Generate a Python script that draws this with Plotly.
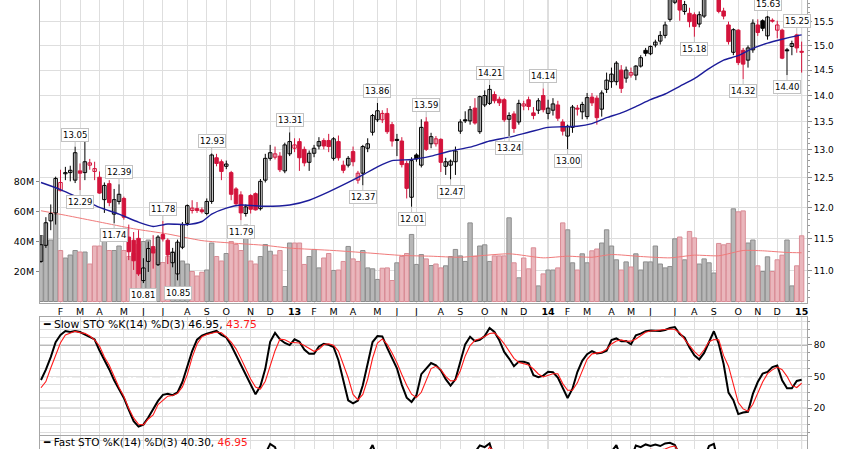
import datetime as dt
import math

import plotly.graph_objects as go

FIRST_WEEK = dt.datetime(2012, 1, 9)
WEEK_MS = 7 * 24 * 3600 * 1000

# weekly OHLC, Jan 2012 - Jan 2015
opens = [
    11.14, 11.39, 11.78, 11.91, 12.28, 12.57, 12.59, 12.46, 12.62, 12.59,
    12.72, 12.61, 12.51, 12.13, 12.40, 11.89, 12.10, 12.15, 11.52, 11.47,
    11.50, 10.85, 11.14, 11.37, 11.09, 11.56, 11.47, 11.12, 10.95, 11.36,
    11.74, 11.95, 11.98, 11.96, 11.90, 12.10, 12.85, 12.78, 12.70, 12.59,
    12.31, 12.21, 11.90, 12.20, 12.23, 11.98, 12.46, 12.84, 12.86, 12.88,
    12.62, 12.92, 13.02, 13.14, 13.00, 12.77, 12.93, 13.06, 13.16, 13.16,
    12.84, 13.14, 12.72, 12.72, 12.96, 12.46, 12.58, 13.02, 13.31, 13.54,
    13.54, 13.66, 13.45, 13.18, 13.15, 12.75, 12.17, 12.90, 12.72, 13.50,
    13.10, 13.10, 13.18, 12.70, 12.72, 12.78, 13.33, 13.54, 13.52, 13.76,
    13.32, 13.82, 13.85, 14.02, 13.93, 13.92, 13.55, 13.65, 13.50, 13.80,
    13.92, 13.67, 13.72, 14.00, 13.66, 13.72, 13.82, 13.50, 13.24, 13.40,
    13.76, 13.69, 13.60, 13.97, 13.95, 13.74, 14.12, 14.27, 14.27, 14.50,
    14.34, 14.40, 14.40, 14.58, 14.90, 14.83, 15.01, 15.09, 15.21, 15.55,
    15.92, 16.12, 15.72, 15.68, 15.65, 15.45, 15.62, 16.08, 16.22, 16.18,
    15.73, 15.43, 14.86, 15.32, 14.90, 14.70, 14.91, 15.43, 15.52, 15.20,
    15.53, 15.32, 15.32, 14.91, 14.98, 15.22, 14.88,
]
highs = [
    11.55, 11.84, 12.05, 12.52, 12.64, 12.69, 12.71, 13.05, 12.75, 13.16,
    12.83, 12.78, 12.61, 12.42, 12.46, 12.31, 12.39, 12.18, 11.72, 11.60,
    11.63, 11.19, 11.45, 11.55, 11.55, 11.78, 11.50, 11.35, 11.48, 11.76,
    12.05, 12.12, 12.09, 12.00, 12.15, 12.93, 12.92, 12.82, 12.80, 12.62,
    12.34, 12.27, 12.05, 12.22, 12.25, 12.48, 12.92, 13.08, 13.05, 12.95,
    13.12, 13.31, 13.20, 13.20, 13.05, 12.98, 13.08, 13.22, 13.20, 13.28,
    13.22, 13.25, 12.80, 12.88, 13.05, 12.62, 13.08, 13.20, 13.65, 13.86,
    13.72, 13.76, 13.50, 13.28, 13.22, 12.80, 12.86, 12.93, 13.55, 13.59,
    13.30, 13.24, 13.20, 12.85, 12.82, 13.05, 13.55, 13.70, 13.80, 13.95,
    14.00, 14.10, 14.21, 14.08, 13.98, 13.95, 13.68, 13.70, 13.92, 13.90,
    13.98, 13.78, 13.95, 14.14, 13.92, 13.95, 13.90, 13.55, 13.45, 13.82,
    13.82, 13.88, 14.05, 14.05, 14.00, 14.10, 14.45, 14.55, 14.68, 14.60,
    14.57, 14.55, 14.60, 14.80, 14.95, 15.00, 15.12, 15.30, 15.50, 16.10,
    16.25, 16.20, 15.95, 15.80, 15.70, 15.72, 16.15, 16.35, 16.42, 16.22,
    15.80, 15.50, 15.36, 15.34, 14.95, 15.00, 15.55, 15.55, 15.55, 15.63,
    15.57, 15.52, 15.35, 14.95, 15.10, 15.25, 15.08,
]
lows = [
    11.12, 11.35, 11.63, 11.72, 12.27, 12.46, 12.44, 12.41, 12.29, 12.46,
    12.64, 12.46, 12.23, 11.91, 12.02, 11.74, 12.05, 11.80, 11.16, 11.01,
    10.92, 10.81, 10.98, 11.03, 11.07, 11.45, 11.10, 11.05, 10.85, 11.33,
    11.70, 11.90, 11.91, 11.90, 11.87, 12.06, 12.70, 12.46, 12.65, 12.12,
    12.03, 11.79, 11.85, 11.90, 11.95, 11.95, 12.42, 12.80, 12.82, 12.60,
    12.58, 12.88, 12.95, 12.62, 12.70, 12.62, 12.86, 13.00, 13.00, 12.95,
    12.80, 12.80, 12.58, 12.68, 12.70, 12.40, 12.37, 12.95, 13.25, 13.50,
    13.48, 13.28, 13.05, 12.88, 12.68, 12.15, 12.01, 12.78, 12.68, 12.97,
    13.02, 13.05, 12.60, 12.55, 12.47, 12.55, 13.28, 13.48, 13.45, 13.45,
    13.28, 13.78, 13.82, 13.85, 13.80, 13.50, 13.24, 13.30, 13.45, 13.72,
    13.72, 13.55, 13.65, 13.68, 13.55, 13.62, 13.52, 13.25, 13.00, 13.30,
    13.62, 13.55, 13.55, 13.80, 13.45, 13.60, 14.05, 14.15, 14.20, 14.05,
    14.25, 14.35, 14.30, 14.55, 14.78, 14.80, 14.96, 15.02, 15.15, 15.50,
    15.88, 15.52, 15.65, 15.38, 15.18, 15.38, 15.58, 16.00, 16.02, 15.68,
    15.55, 15.02, 14.80, 14.60, 14.32, 14.55, 14.85, 15.20, 15.30, 15.12,
    15.48, 15.15, 14.72, 14.40, 14.80, 14.85, 14.45,
]
closes = [
    11.40, 11.75, 11.90, 12.49, 12.42, 12.59, 12.63, 12.94, 12.58, 12.78,
    12.76, 12.66, 12.24, 12.37, 12.08, 12.13, 12.22, 11.84, 11.29, 11.15,
    10.95, 11.04, 11.34, 11.27, 11.52, 11.49, 11.24, 11.28, 11.44, 11.72,
    12.03, 11.99, 11.95, 11.93, 12.10, 12.90, 12.75, 12.61, 12.74, 12.22,
    12.06, 11.91, 12.01, 11.97, 11.96, 12.44, 12.84, 12.94, 12.92, 12.64,
    13.08, 13.14, 13.08, 12.85, 12.76, 12.93, 13.02, 13.14, 13.06, 13.05,
    13.19, 12.85, 12.63, 12.84, 12.78, 12.58, 13.05, 13.10, 13.62, 13.71,
    13.66, 13.32, 13.15, 13.16, 12.73, 12.32, 12.80, 12.83, 13.40, 13.00,
    13.23, 13.19, 12.77, 12.78, 12.79, 12.97, 13.50, 13.52, 13.73, 13.48,
    13.98, 14.00, 14.12, 13.90, 13.86, 13.54, 13.62, 13.38, 13.85, 13.84,
    13.79, 13.62, 13.90, 13.73, 13.76, 13.84, 13.57, 13.33, 13.42, 13.78,
    13.74, 13.83, 13.96, 13.86, 13.58, 14.05, 14.30, 14.42, 14.64, 14.14,
    14.50, 14.45, 14.58, 14.75, 14.84, 14.98, 15.07, 15.21, 15.43, 16.02,
    16.15, 15.75, 15.87, 15.50, 15.40, 15.65, 16.08, 16.25, 16.30, 15.72,
    15.62, 15.08, 15.33, 14.65, 14.62, 14.95, 15.47, 15.27, 15.36, 15.60,
    15.51, 15.43, 14.74, 14.89, 15.04, 14.95, 14.86,
]
volume_m = [
    44, 41, 41, 58, 34, 29, 31, 34, 33, 33,
    25, 37, 37, 41, 34, 34, 37, 34, 30, 32,
    38, 40, 41, 35, 26, 26, 30, 33, 34, 27,
    25, 20, 17, 19.5, 21, 39, 30, 27, 32, 40,
    38, 34, 51, 27, 25, 30, 38, 33.5, 31, 34,
    10, 39, 39, 39, 24.7, 30, 34.7, 22.4, 29, 32,
    20.7, 21, 26.7, 36.7, 28.4, 26.7, 34, 22.4, 21.8, 14.7,
    22.2, 22.4, 14, 25.8, 30, 32, 44.7, 24.7, 31.3, 28.4,
    24, 25, 22.4, 23.8, 30, 34.7, 30.4, 26.7, 52.4, 30.2,
    37, 37.8, 26.7, 30.4, 30.4, 30.4, 55.8, 25.8, 15.8, 29,
    21.8, 35.8, 10.4, 18.4, 21, 21, 22.4, 52.4, 47.8, 25.8,
    21, 31.8, 25.8, 33.8, 35, 39, 47.8, 37, 27.8, 21,
    26.4, 23, 31.8, 21, 26.4, 26.4, 37, 25, 22.4, 23.3,
    41.8, 43, 27.8, 46.7, 42.4, 25, 28.4, 25.8, 19, 38.7,
    37.8, 38.7, 61.8, 59.8, 60.4, 39, 41, 23.8, 20, 29.8,
    20, 27.8, 30.9, 41, 10.4, 23.8, 43.8,
]

# moving averages (week index, value)
sma_weeks = [0, 4, 8, 12, 16, 20, 23, 26, 30, 33, 35, 38, 41, 46, 51, 55, 59, 63, 66, 69,
             72, 76, 80, 84, 88, 92, 96, 100, 104, 107, 110, 113, 116, 119, 122, 125,
             128, 131, 134, 137, 140, 143, 146, 149, 152, 155, 156]
sma_vals = [12.42, 12.30, 12.15, 12.00, 11.89, 11.76, 11.69, 11.73, 11.72, 11.77, 11.89,
            11.99, 12.04, 12.02, 12.04, 12.12, 12.26, 12.42, 12.55, 12.69, 12.80, 12.82,
            12.88, 12.97, 13.04, 13.15, 13.22, 13.31, 13.40, 13.41, 13.42, 13.47, 13.58,
            13.67, 13.79, 13.92, 14.03, 14.18, 14.33, 14.53, 14.70, 14.79, 14.94, 15.05,
            15.13, 15.20, 15.22]
vol_sma_weeks = [0, 5, 12, 19, 26, 33, 39, 46, 51, 60, 67, 74, 80, 86, 96, 103, 108, 113,
                 117, 123, 129, 134, 139, 144, 148, 153, 156]
vol_sma_vals = [60.5, 57.5, 53, 48.5, 45, 40.6, 39, 37.4, 35.6, 34, 32.4, 30.7, 30.2, 29.5,
                31.8, 29.1, 30.2, 29.5, 31.3, 30, 29.1, 30.9, 30.5, 34, 33.8, 32.7, 32.5]

slow_k = [
    46.8, 56.6, 68.5, 82.6, 89.6, 93.2, 92.4, 93.3, 92.3, 90.1,
    87.6, 85.2, 74.7, 66.3, 56.8, 46.5, 38.7, 29.8, 18.6, 7.8,
    2.6, 4.5, 11.2, 18.7, 27.0, 32.8, 33.8, 32.4, 35.0, 44.9,
    59.9, 74.3, 85.0, 88.9, 90.7, 91.9, 93.3, 89.6, 87.1, 79.7,
    70.4, 60.5, 51.5, 42.1, 33.2, 41.1, 57.4, 83.0, 91.4, 85.4,
    81.9, 79.9, 85.4, 83.1, 75.7, 71.6, 71.6, 78.6, 81.1, 80.1,
    78.1, 65.5, 46.5, 27.6, 24.7, 27.3, 41.8, 63.3, 82.8, 88.5,
    88.1, 77.2, 68.2, 57.9, 42.2, 30.1, 26.0, 32.3, 52.4, 57.6,
    62.9, 60.7, 56.0, 47.6, 41.4, 47.4, 64.8, 80.6, 87.8, 83.6,
    84.9, 88.4, 96.0, 92.3, 84.4, 73.4, 67.1, 59.8, 64.2, 64.0,
    62.6, 51.4, 49.5, 51.0, 54.6, 54.1, 49.1, 39.0, 29.8, 38.6,
    54.4, 65.0, 71.2, 74.2, 71.9, 72.7, 74.5, 84.6, 86.2, 83.5,
    83.8, 80.6, 89.2, 90.7, 93.1, 93.8, 93.4, 93.3, 94.2, 96.0,
    97.0, 90.4, 86.9, 77.5, 70.2, 66.3, 72.5, 83.3, 93.0, 81.2,
    62.0, 34.9, 27.7, 14.5, 16.0, 16.7, 33.6, 44.9, 52.8, 54.4,
    59.0, 60.5, 46.5, 39.0, 39.0, 45.9, 46.95,
]
slow_d = [
    39.5, 45.3, 58.2, 71.1, 82.1, 89.4, 91.5, 92.9, 91.7, 91.0,
    88.5, 84.7, 79.1, 68.6, 60.8, 50.4, 39.8, 31.2, 19.9, 10.9,
    4.9, 4.3, 9.9, 13.7, 23.6, 27.5, 31.5, 32.2, 34.1, 40.3,
    51.9, 68.3, 80.9, 87.8, 89.9, 91.1, 92.3, 91.5, 87.7, 82.7,
    76.3, 67.3, 56.8, 47.8, 40.2, 38.3, 45.7, 59.5, 74.6, 85.5,
    85.0, 82.6, 81.9, 81.9, 79.5, 76.4, 74.0, 75.9, 80.4, 81.2,
    79.7, 74.2, 62.3, 48.9, 33.1, 27.9, 33.2, 47.5, 67.4, 81.7,
    85.7, 80.6, 72.5, 63.2, 52.1, 41.8, 33.4, 30.1, 35.2, 46.5,
    57.6, 59.8, 56.6, 50.3, 46.0, 46.3, 55.6, 69.6, 79.4, 84.4,
    85.8, 88.0, 90.9, 91.5, 86.9, 81.1, 74.0, 67.3, 63.5, 62.5,
    61.0, 57.2, 52.5, 49.7, 51.0, 52.8, 52.8, 43.4, 37.1, 37.1,
    44.1, 55.4, 66.4, 71.6, 72.3, 73.2, 75.9, 81.0, 83.8, 84.8,
    83.5, 83.6, 85.7, 89.2, 92.1, 93.2, 93.5, 94.0, 94.4, 95.1,
    94.6, 91.6, 85.3, 79.2, 73.7, 69.5, 75.5, 83.0, 85.2, 84.9,
    69.9, 59.9, 42.0, 25.4, 19.4, 17.1, 23.8, 33.9, 44.9, 52.8,
    56.4, 59.0, 56.6, 50.3, 41.7, 39.7, 43.75,
]
# fast %K: only its tops show in the cropped bottom panel
fast_k_weeks = [45, 47, 48, 49, 66, 68, 69, 88, 90, 91, 92, 93, 116, 118, 119, 121, 122,
                123, 124, 125, 126, 127, 128, 129, 130, 131, 136, 137, 138, 139, 156]
fast_k_vals = [80, 99, 96, 80, 80, 98, 85, 85, 97.5, 96, 99.5, 85, 85, 98, 85, 85, 97.5,
               96, 98.5, 97, 98.5, 97, 99.5, 100, 98, 88, 85, 97, 99, 80, 40.30]

# swing highs / lows that carry a price tag
label_weeks = [7, 8, 16, 15, 25, 21, 28, 35, 41, 51, 66, 69, 76, 79, 84, 92, 96, 103,
               108, 134, 149, 144, 155, 153]
label_side = ["hi", "lo", "hi", "lo", "hi", "lo", "lo", "hi", "lo", "hi", "lo", "hi",
              "lo", "hi", "lo", "hi", "lo", "hi", "lo", "lo", "hi", "lo", "hi", "lo"]

RED = "#d3143c"
GRID = "#dedede"
YEAR_GRID = "#b4b4b4"
FRAME = "#a6a6a6"
FONT = "DejaVu Sans"

n = len(closes)
weeks = [FIRST_WEEK + dt.timedelta(weeks=i) for i in range(n)]

# month ticks on the first weekly bar of each month
letters = "JFMAMJJASOND"
tick_dates, tick_text, year_dates = [], [], []
for i in range(1, n):
    if weeks[i].month != weeks[i - 1].month:
        tick_dates.append(weeks[i])
        if weeks[i].month == 1:
            tick_text.append(f"<b>{weeks[i].year % 100:02d}</b>")
            year_dates.append(weeks[i])
        else:
            tick_text.append(letters[weeks[i].month - 1])

x_range = [weeks[0] - dt.timedelta(days=1.44), weeks[-1] + dt.timedelta(days=7.7)]

# StockCharts colouring: red when close < previous close, hollow when close > open
groups = {k: [] for k in ("hb", "fb", "hr", "fr")}
vol_up, vol_dn = [], []
for i in range(n):
    prev = closes[i - 1] if i else opens[i]
    down = closes[i] < prev
    hollow = closes[i] >= opens[i]
    key = ("h" if hollow else "f") + ("r" if down else "b")
    groups[key].append(i)
    (vol_dn if down else vol_up).append(i)

fig = go.Figure()

for idx, fill, edge in ((vol_up, "#b7b7b7", "#8e8e8e"), (vol_dn, "#eab6bc", "#d98d96")):
    fig.add_trace(go.Bar(
        x=[weeks[i] for i in idx], y=[volume_m[i] for i in idx],
        width=0.9 * WEEK_MS, marker=dict(color=fill, line=dict(color=edge, width=1)),
        xaxis="x", yaxis="y",
    ))
fig.add_trace(go.Scatter(
    x=[weeks[i] for i in vol_sma_weeks], y=vol_sma_vals, mode="lines",
    line=dict(color="#f07a7a", width=1, shape="spline", smoothing=0.6),
    xaxis="x", yaxis="y",
))

for colour, keys in (("#000000", ("hb", "fb")), (RED, ("hr", "fr"))):
    wx, wy = [], []
    for k in keys:
        for i in groups[k]:
            wx += [weeks[i], weeks[i], None]
            wy += [lows[i], highs[i], None]
    fig.add_trace(go.Scatter(x=wx, y=wy, mode="lines", line=dict(color=colour, width=1),
                             xaxis="x", yaxis="y2"))

body_style = {"hb": ("white", "#000000"), "fb": ("#000000", "#000000"),
              "hr": ("white", RED), "fr": (RED, RED)}
for k, (fill, edge) in body_style.items():
    idx = groups[k]
    fig.add_trace(go.Bar(
        x=[weeks[i] for i in idx],
        base=[min(opens[i], closes[i]) for i in idx],
        y=[max(abs(closes[i] - opens[i]), 0.004) for i in idx],
        width=0.72 * WEEK_MS, marker=dict(color=fill, line=dict(color=edge, width=1)),
        xaxis="x", yaxis="y2",
    ))

fig.add_trace(go.Scatter(
    x=[weeks[i] for i in sma_weeks], y=sma_vals, mode="lines",
    line=dict(color="#1c1c9a", width=1.4, shape="spline", smoothing=0.6),
    xaxis="x", yaxis="y2",
))

fig.add_trace(go.Scatter(x=weeks, y=slow_k, mode="lines", line=dict(color="black", width=2),
                         xaxis="x2", yaxis="y3"))
fig.add_trace(go.Scatter(x=weeks, y=slow_d, mode="lines", line=dict(color="#ff1a1a", width=1.1),
                         xaxis="x2", yaxis="y3"))
fig.add_trace(go.Scatter(x=[weeks[i] for i in fast_k_weeks], y=fast_k_vals, mode="lines",
                         line=dict(color="black", width=2), xaxis="x3", yaxis="y4"))
fig.add_trace(go.Scatter(x=weeks, y=slow_k, mode="lines", line=dict(color="#ff1a1a", width=1.1),
                         xaxis="x3", yaxis="y4"))

annotations = []
for i, side in zip(label_weeks, label_side):
    val = highs[i] if side == "hi" else lows[i]
    annotations.append(dict(
        x=weeks[i], y=math.log10(val), xref="x", yref="y2", text=f"{val:.2f}",
        showarrow=True, arrowhead=0, arrowwidth=1, arrowcolor="#c2c2c2",
        ax=0, ay=-12 if side == "hi" else 12, standoff=0,
        bgcolor="white", bordercolor="#c2c2c2", borderwidth=1, borderpad=1,
        font=dict(family=FONT, size=8.5, color="black"),
    ))
annotations.append(dict(
    x=0.002, y=1 - 324 / 449, xref="paper", yref="paper", xanchor="left", yanchor="middle",
    showarrow=False, borderpad=0, font=dict(family=FONT, size=10.8, color="black"),
    text=f"<b>━</b> Slow STO %K(14) %D(3) {slow_k[-1]:.2f}, "
         f"<span style='color:#ff1a1a'>{slow_d[-1]:.2f}</span>",
))
annotations.append(dict(
    x=0.002, y=0.001, xref="paper", yref="paper", xanchor="left", yanchor="bottom",
    showarrow=False, borderpad=0, font=dict(family=FONT, size=10.5, color="black"),
    text=f"<b>━</b> Fast STO %K(14) %D(3) {fast_k_vals[-1]:.2f}, "
         f"<span style='color:#ff1a1a'>{slow_k[-1]:.2f}</span>",
))

shapes = []
for d in year_dates:
    for xr, yr in (("x", "y domain"), ("x2", "y3 domain"), ("x3", "y4 domain")):
        shapes.append(dict(type="line", xref=xr, yref=yr, x0=d, x1=d, y0=0, y1=1,
                           line=dict(color=YEAR_GRID, width=1), layer="below"))
for lvl, dash in ((80, "solid"), (20, "solid"), (50, "8px,3px,2px,3px")):
    shapes.append(dict(type="line", xref="x2 domain", yref="y3", x0=0, x1=1, y0=lvl, y1=lvl,
                       line=dict(color="#6e6e6e", width=1, dash=dash), layer="below"))

price_ticks = [11.0 + 0.5 * k for k in range(11)]
price_minor = [round(10.6 + 0.1 * k, 1) for k in range(55)]
xcommon = dict(type="date", range=x_range, tickvals=tick_dates, showgrid=True,
               gridcolor=GRID, gridwidth=1, zeroline=False, linecolor=FRAME)

fig.update_layout(
    width=856, height=449, autosize=False,
    margin=dict(l=40, r=49, t=0, b=0),
    paper_bgcolor="white", plot_bgcolor="white",
    showlegend=False, hovermode=False, barmode="overlay",
    font=dict(family=FONT, size=9, color="black"),
    xaxis=dict(**xcommon, anchor="y", ticktext=tick_text, ticks="", showline=True,
               tickfont=dict(family=FONT, size=9.5, color="black")),
    xaxis2=dict(**xcommon, anchor="y3", matches="x", showticklabels=False, showline=True,
                mirror=True),
    xaxis3=dict(**xcommon, anchor="y4", matches="x", showticklabels=False, showline=True,
                side="top"),
    yaxis=dict(domain=[1 - 303 / 449, 1], range=[-1.0, 201], side="left",
               tickvals=[20, 40, 60, 80], ticktext=["20M", "40M", "60M", "80M"],
               showgrid=False, zeroline=False, ticks="outside", ticklen=3,
               tickcolor="#888", showline=True, linecolor=FRAME,
               tickfont=dict(family=FONT, size=9.5)),
    yaxis2=dict(overlaying="y", side="right", type="log", anchor="x",
                range=[math.log10(10.52), math.log10(15.97)],
                tickvals=price_ticks, ticktext=[f"{v:.1f}" for v in price_ticks],
                showgrid=True, gridcolor=GRID, zeroline=False, ticks="outside",
                ticklen=4, tickcolor="#888", showline=True, linecolor=FRAME,
                minor=dict(tickmode="array", tickvals=price_minor, ticks="outside",
                           ticklen=2, tickcolor="#999", showgrid=False),
                tickfont=dict(family=FONT, size=9)),
    yaxis3=dict(domain=[1 - 435 / 449, 1 - 317 / 449], range=[-5.3, 106.5], side="right",
                anchor="x2", tickvals=[20, 50, 80], showgrid=False, zeroline=False,
                ticks="outside", ticklen=4, tickcolor="#888", showline=True,
                linecolor=FRAME, mirror=True,
                minor=dict(tick0=5, dtick=7.5, showgrid=True, gridcolor=GRID,
                           ticks="outside", ticklen=2, tickcolor="#999"),
                tickfont=dict(family=FONT, size=9)),
    yaxis4=dict(domain=[0, 1 - 436 / 449], range=[94.18, 106.5], side="right",
                anchor="x3", showticklabels=False, showgrid=False, zeroline=False,
                showline=True, linecolor=FRAME, mirror=True,
                minor=dict(tick0=5, dtick=7.5, showgrid=True, gridcolor=GRID)),
    annotations=annotations,
    shapes=shapes,
)

# the page body has a default 8px margin; drop it so the figure fills the window
fig.write_html("out.html", config={"displayModeBar": False},
               post_script="document.body.style.margin='0';")
